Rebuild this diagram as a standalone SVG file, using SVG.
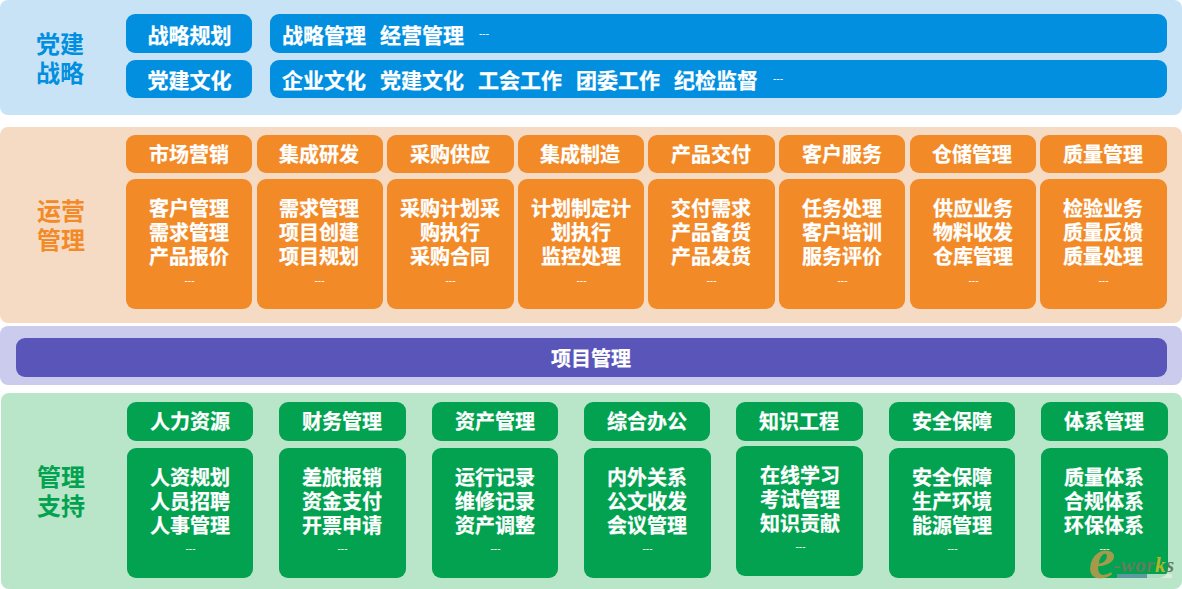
<svg xmlns="http://www.w3.org/2000/svg" width="1182" height="589" viewBox="0 0 1182 589">
<style>
text{font-family:"Noto Sans CJK SC","Noto Sans",sans-serif;font-weight:700;text-anchor:middle}
.w{fill:#fff;font-size:20px;stroke:#fff;stroke-width:.25px}
.l{font-size:21px}
.s{text-anchor:start}
.d{fill:#fff;font-size:10px;font-family:"Liberation Sans",sans-serif;font-weight:400}
.t{font-size:24px}
.b{fill:#028fe0}.o{fill:#f28a28}.p{fill:#5955b9}.g{fill:#02a250}
</style>
<g id="band-party"><rect x="0" y="0" width="1182" height="115" rx="8" fill="#c9e3f6"/>
<text class="t" x="60" y="53" fill="#028fe0">党建</text><text class="t" x="60" y="82" fill="#028fe0">战略</text></g>
<g id="band-ops"><rect x="0" y="127" width="1182" height="196" rx="8" fill="#f6dbc4"/>
<text class="t" x="61" y="219.5" fill="#f28a28">运营</text><text class="t" x="61" y="248.5" fill="#f28a28">管理</text></g>
<g id="band-project"><rect x="0" y="326" width="1182" height="59" rx="8" fill="#cbcbee"/></g>
<g id="band-support"><rect x="1" y="393" width="1181" height="196" rx="8" fill="#b9e5c9"/>
<text class="t" x="61" y="485.5" fill="#02a250">管理</text><text class="t" x="61" y="514.5" fill="#02a250">支持</text></g>

<g id="party-plan"><rect class="b" x="126" y="14" width="126" height="39" rx="9"/><text class="w l" x="189.5" y="42.5">战略规划</text></g>
<g id="party-culture"><rect class="b" x="126" y="60" width="126" height="38" rx="9"/><text class="w l" x="189.5" y="87.5">党建文化</text></g>
<g id="party-plan-items"><rect class="b" x="270" y="14" width="897" height="39" rx="9"/>
<text class="w l s" x="282" y="42.5">战略管理</text><text class="w l s" x="380" y="42.5">经营管理</text><text class="d s" x="479" y="37">---</text></g>
<g id="party-culture-items"><rect class="b" x="270" y="60" width="897" height="38" rx="9"/>
<text class="w l s" x="282" y="87.5">企业文化</text><text class="w l s" x="380" y="87.5">党建文化</text><text class="w l s" x="478" y="87.5">工会工作</text><text class="w l s" x="576" y="87.5">团委工作</text><text class="w l s" x="674" y="87.5">纪检监督</text><text class="d s" x="773" y="82">---</text></g>

<g id="ops-1"><rect class="o" x="126" y="135" width="126" height="38" rx="9"/><text class="w" x="189" y="162">市场营销</text>
<rect class="o" x="126" y="179" width="126" height="130" rx="9"/><text class="w" x="189" y="216">客户管理</text><text class="w" x="189" y="240">需求管理</text><text class="w" x="189" y="264">产品报价</text><text class="d" x="189.5" y="284">---</text></g>
<g id="ops-2"><rect class="o" x="257" y="135" width="126" height="38" rx="9"/><text class="w" x="319" y="162">集成研发</text>
<rect class="o" x="257" y="179" width="126" height="130" rx="9"/><text class="w" x="319" y="216">需求管理</text><text class="w" x="319" y="240">项目创建</text><text class="w" x="319" y="264">项目规划</text><text class="d" x="319.5" y="284">---</text></g>
<g id="ops-3"><rect class="o" x="387" y="135" width="127" height="38" rx="9"/><text class="w" x="450" y="162">采购供应</text>
<rect class="o" x="387" y="179" width="127" height="130" rx="9"/><text class="w" x="450" y="216">采购计划采</text><text class="w" x="450" y="240">购执行</text><text class="w" x="450" y="264">采购合同</text><text class="d" x="450.5" y="284">---</text></g>
<g id="ops-4"><rect class="o" x="518" y="135" width="126" height="38" rx="9"/><text class="w" x="580" y="162">集成制造</text>
<rect class="o" x="518" y="179" width="126" height="130" rx="9"/><text class="w" x="581" y="216">计划制定计</text><text class="w" x="581" y="240">划执行</text><text class="w" x="581" y="264">监控处理</text><text class="d" x="581.5" y="284">---</text></g>
<g id="ops-5"><rect class="o" x="648" y="135" width="127" height="38" rx="9"/><text class="w" x="711" y="162">产品交付</text>
<rect class="o" x="648" y="179" width="127" height="130" rx="9"/><text class="w" x="711" y="216">交付需求</text><text class="w" x="711" y="240">产品备货</text><text class="w" x="711" y="264">产品发货</text><text class="d" x="711.5" y="284">---</text></g>
<g id="ops-6"><rect class="o" x="779" y="135" width="126" height="38" rx="9"/><text class="w" x="842" y="162">客户服务</text>
<rect class="o" x="779" y="179" width="126" height="130" rx="9"/><text class="w" x="842" y="216">任务处理</text><text class="w" x="842" y="240">客户培训</text><text class="w" x="842" y="264">服务评价</text><text class="d" x="842.5" y="284">---</text></g>
<g id="ops-7"><rect class="o" x="910" y="135" width="126" height="38" rx="9"/><text class="w" x="972" y="162">仓储管理</text>
<rect class="o" x="910" y="179" width="126" height="130" rx="9"/><text class="w" x="973" y="216">供应业务</text><text class="w" x="973" y="240">物料收发</text><text class="w" x="973" y="264">仓库管理</text><text class="d" x="973.5" y="284">---</text></g>
<g id="ops-8"><rect class="o" x="1040" y="135" width="127" height="38" rx="9"/><text class="w" x="1103" y="162">质量管理</text>
<rect class="o" x="1040" y="179" width="127" height="130" rx="9"/><text class="w" x="1103" y="216">检验业务</text><text class="w" x="1103" y="240">质量反馈</text><text class="w" x="1103" y="264">质量处理</text><text class="d" x="1103.5" y="284">---</text></g>

<g id="project"><rect class="p" x="16" y="338" width="1151" height="39" rx="9"/><text class="w" x="591" y="366">项目管理</text></g>

<g id="sup-1"><rect class="g" x="127" y="402" width="126" height="39" rx="9"/><text class="w" x="190" y="429">人力资源</text>
<rect class="g" x="127" y="448" width="126" height="130" rx="9"/><text class="w" x="190" y="485">人资规划</text><text class="w" x="190" y="509">人员招聘</text><text class="w" x="190" y="533">人事管理</text><text class="d" x="190.5" y="552">---</text></g>
<g id="sup-2"><rect class="g" x="279" y="402" width="127" height="39" rx="9"/><text class="w" x="342" y="429">财务管理</text>
<rect class="g" x="279" y="448" width="127" height="130" rx="9"/><text class="w" x="342" y="485">差旅报销</text><text class="w" x="342" y="509">资金支付</text><text class="w" x="342" y="533">开票申请</text><text class="d" x="342.5" y="552">---</text></g>
<g id="sup-3"><rect class="g" x="432" y="402" width="126" height="39" rx="9"/><text class="w" x="495" y="429">资产管理</text>
<rect class="g" x="432" y="448" width="126" height="130" rx="9"/><text class="w" x="495" y="485">运行记录</text><text class="w" x="495" y="509">维修记录</text><text class="w" x="495" y="533">资产调整</text><text class="d" x="495.5" y="552">---</text></g>
<g id="sup-4"><rect class="g" x="584" y="402" width="126" height="39" rx="9"/><text class="w" x="647" y="429">综合办公</text>
<rect class="g" x="584" y="448" width="127" height="130" rx="9"/><text class="w" x="647" y="485">内外关系</text><text class="w" x="647" y="509">公文收发</text><text class="w" x="647" y="533">会议管理</text><text class="d" x="647.5" y="552">---</text></g>
<g id="sup-5"><rect class="g" x="736" y="402" width="127" height="39" rx="9"/><text class="w" x="799" y="429">知识工程</text>
<rect class="g" x="736" y="446" width="127" height="130" rx="9"/><text class="w" x="800" y="483">在线学习</text><text class="w" x="800" y="507">考试管理</text><text class="w" x="800" y="531">知识贡献</text><text class="d" x="800.5" y="550">---</text></g>
<g id="sup-6"><rect class="g" x="889" y="402" width="126" height="39" rx="9"/><text class="w" x="952" y="429">安全保障</text>
<rect class="g" x="889" y="448" width="126" height="130" rx="9"/><text class="w" x="952" y="485">安全保障</text><text class="w" x="952" y="509">生产环境</text><text class="w" x="952" y="533">能源管理</text><text class="d" x="952.5" y="552">---</text></g>
<g id="sup-7"><rect class="g" x="1041" y="402" width="127" height="39" rx="9"/><text class="w" x="1104" y="429">体系管理</text>
<rect class="g" x="1041" y="448" width="127" height="130" rx="9"/><text class="w" x="1104" y="485">质量体系</text><text class="w" x="1104" y="509">合规体系</text><text class="w" x="1104" y="533">环保体系</text><text class="d" x="1104.5" y="552">---</text></g>

<g id="connectors"/>

<g id="watermark">
<rect x="1117" y="574" width="55" height="4" fill="#e4efe4" opacity=".75"/><rect x="1117" y="574" width="30" height="4" fill="#4a8a98" opacity=".8"/>
<text x="1102" y="578" style="font-family:'Liberation Serif',serif;font-size:60px;font-style:italic" fill="#c09a4a" fill-opacity=".85">e</text>
<text x="1144" y="572" style="font-family:'Liberation Serif',serif;font-size:21px;font-style:italic;letter-spacing:.5px" fill="#5f7f5f">-wor<tspan fill="#b5b52a">k</tspan>s</text>
</g>
</svg>
